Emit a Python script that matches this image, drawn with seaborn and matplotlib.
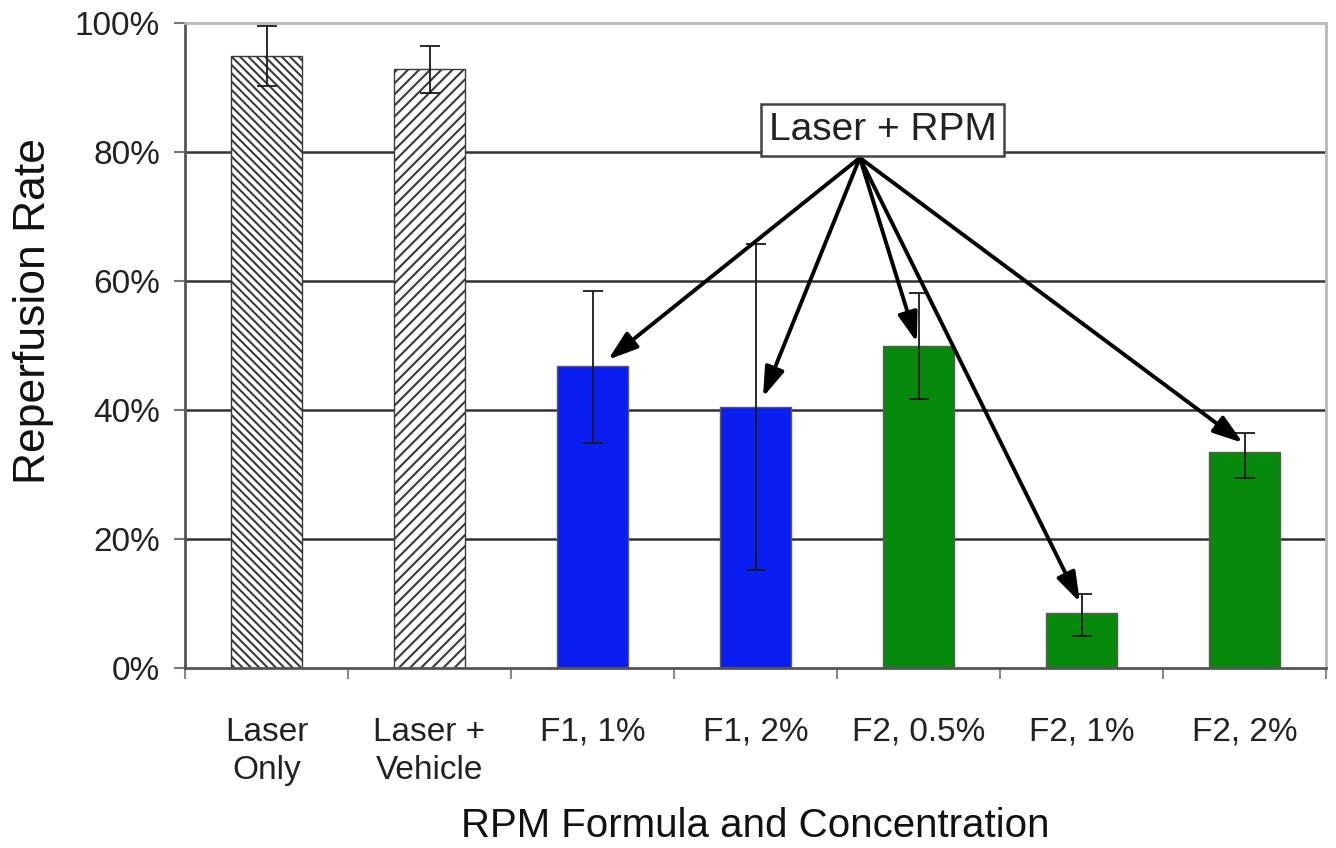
import numpy as np
import pandas as pd
import matplotlib
matplotlib.use("Agg")
import matplotlib.pyplot as plt
import seaborn as sns

# ---- data ----
categories = ["Laser\nOnly", "Laser +\nVehicle", "F1, 1%", "F1, 2%", "F2, 0.5%", "F2, 1%", "F2, 2%"]
rates = [94.9, 92.9, 46.8, 40.5, 49.9, 8.5, 33.5]
err_low = [90.2, 89.1, 34.9, 15.2, 41.7, 5.0, 29.5]
err_high = [99.5, 96.4, 58.4, 65.7, 58.1, 11.5, 36.4]
bar_colors = ["#ffffff", "#ffffff", "#0a1ef2", "#0a1ef2", "#078a0c", "#078a0c", "#078a0c"]
y_ticks = [0, 20, 40, 60, 80, 100]
annotation_text = "Laser + RPM"
arrow_targets_idx = [2, 3, 4, 5, 6]
arrow_tip_dx = [0.095, 0.046, -0.01, -0.01, -0.01]
arrow_tip_y = [47.8, 42.0, 50.5, 10.2, 34.9]
arrow_origin = (3.64, 79.1)
text_pos = (3.78, 83.4)

sns.set_style("white")
plt.rcParams["font.family"] = ["Liberation Sans", "DejaVu Sans"]
plt.rcParams["hatch.linewidth"] = 1.5

df = pd.DataFrame({"cat": categories, "rate": rates})

fig = plt.figure(figsize=(13.36, 8.48), dpi=100)
ax = fig.add_axes([185 / 1336, (848 - 668) / 848, (1326 - 185) / 1336, (668 - 23) / 848])

sns.barplot(data=df, x="cat", y="rate", hue="cat", palette=bar_colors, legend=False,
            width=0.43, saturation=1, ax=ax, errorbar=None, zorder=2)

hatches = ["\\\\\\\\", "///"]
for i, p in enumerate(ax.patches):
    p.set_linewidth(1.0)
    if i < 2:
        p.set_hatch(hatches[i])
        p.set_edgecolor("#3a3a3a")
        p.set_facecolor("white")
    else:
        p.set_edgecolor("#5a5a5a")

x = np.arange(len(categories))
r = np.array(rates)
yerr = [r - np.array(err_low), np.array(err_high) - r]
ax.errorbar(x, r, yerr=yerr, fmt="none", ecolor="#1a1a1a", elinewidth=1.3,
            capsize=7, capthick=1.3, zorder=3)

ax.set_xlim(-0.5, len(categories) - 0.5)
ax.set_ylim(0, 100)

# gridlines
for yv in y_ticks[1:-1]:
    ax.axhline(yv, color="#333333", lw=1.8, zorder=1)

# ticks
ax.set_yticks(y_ticks)
ax.set_yticklabels([f"{v}%" for v in y_ticks], fontsize=24, color="#222222")
ax.tick_params(axis="y", left=True, length=8, width=1.5, color="#777777", pad=10)

ax.set_xticks(np.arange(-0.5, len(categories), 1.0))
ax.set_xticklabels([])
ax.set_xticks(x, minor=True)
ax.set_xticklabels(categories, minor=True, fontsize=24, color="#222222", linespacing=1.3)
ax.tick_params(axis="x", which="major", bottom=True, length=8, width=1.5, color="#888888")
ax.tick_params(axis="x", which="minor", bottom=True, length=0, pad=35)

for s in ["left", "bottom"]:
    ax.spines[s].set_color("#555555")
    ax.spines[s].set_linewidth(2)
for s in ["top", "right"]:
    ax.spines[s].set_color("#b8b8b8")
    ax.spines[s].set_linewidth(2)
    ax.spines[s].set_visible(True)

ax.set_ylabel("Reperfusion Rate", fontsize=32, color="#111111", va="center")
ax.yaxis.set_label_coords(-0.133, 0.553)
ax.set_xlabel("RPM Formula and Concentration", fontsize=29, color="#111111", va="center")
ax.xaxis.set_label_coords(0.5, -0.245)

# arrows
for idx, dx, ty in zip(arrow_targets_idx, arrow_tip_dx, arrow_tip_y):
    ax.annotate("", xy=(idx + dx, ty), xytext=arrow_origin,
                arrowprops=dict(arrowstyle="-|>,head_length=0.9,head_width=0.3",
                                lw=2.8, color="black", mutation_scale=20,
                                shrinkA=0, shrinkB=0),
                zorder=5)

ax.text(text_pos[0], text_pos[1], annotation_text, fontsize=28, color="#222222",
        ha="center", va="center", zorder=6,
        bbox=dict(boxstyle="square,pad=0.2", facecolor="white", edgecolor="#444444", lw=1.8))

fig.savefig("out.png", dpi=100)
